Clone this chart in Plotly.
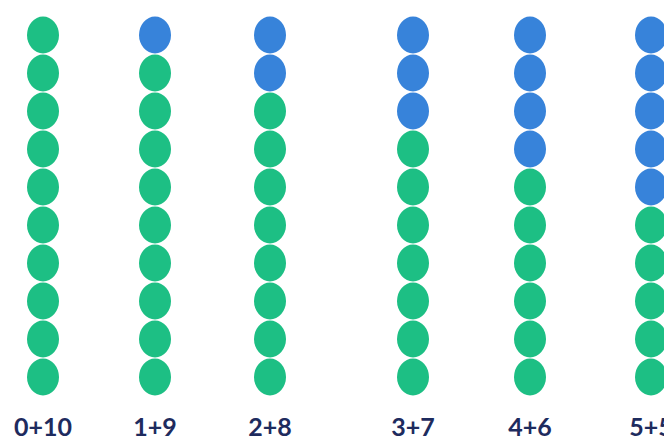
import plotly.graph_objects as go

# Data
labels = ["0+10", "1+9", "2+8", "3+7", "4+6", "5+5"]
blue_counts = [0, 1, 2, 3, 4, 5]
green_counts = [10, 9, 8, 7, 6, 5]

# Layout (pixel-like data units)
col_x = [43, 155, 270, 413, 530, 651]
row_top = 35
row_step = 38
dot_w = 32
dot_h = 37
label_y = 430

GREEN = "#1dbf84"
BLUE = "#3783da"
NAVY = "#1e2b5e"

fig = go.Figure()
shapes = []
for cx, nb, ng in zip(col_x, blue_counts, green_counts):
    total = nb + ng
    for i in range(total):
        cy = row_top + i * row_step
        color = BLUE if i < nb else GREEN
        shapes.append(dict(
            type="circle", xref="x", yref="y",
            x0=cx - dot_w / 2, x1=cx + dot_w / 2,
            y0=cy - dot_h / 2, y1=cy + dot_h / 2,
            fillcolor=color, line=dict(width=0), layer="above",
        ))

fig.add_trace(go.Scatter(
    x=col_x, y=[label_y] * len(col_x), text=labels, mode="text",
    textfont=dict(family="Lato", size=25, color=NAVY, weight="bold"),
    textposition="middle center", hoverinfo="skip", showlegend=False,
    cliponaxis=False,
))

fig.update_layout(
    width=664, height=441, autosize=False,
    margin=dict(l=0, r=0, t=0, b=0),
    paper_bgcolor="white", plot_bgcolor="white",
    shapes=shapes, showlegend=False,
    xaxis=dict(range=[0, 664], visible=False, fixedrange=True),
    yaxis=dict(range=[441, 0], visible=False, fixedrange=True),
)

fig.write_html(
    "out.html",
    config={"displayModeBar": False},
    post_script="document.body.style.margin='0';document.body.style.overflow='hidden';",
)
